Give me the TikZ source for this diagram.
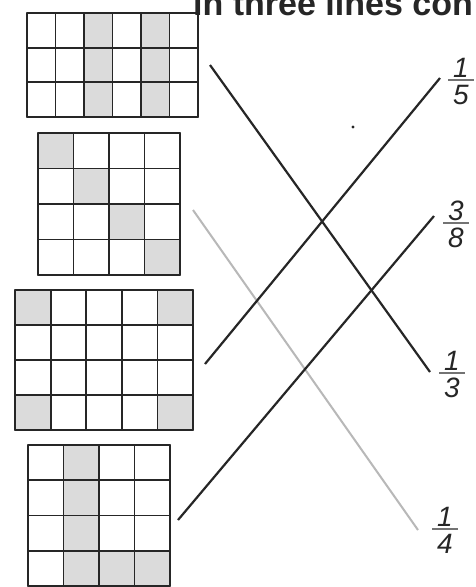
\documentclass[tikz,border=0pt]{standalone}
\usepackage{fontspec}
\setmainfont{Liberation Sans}
\newcommand{\mygrid}[7]{%
  \foreach \i/\j in {#7} \fill[cellshade] ({#1+\i*#3},{#2+\j*#4}) rectangle ++(#3,#4);
  \foreach \k in {0,...,#5} \draw[gridline] ({#1+\k*#3},#2) -- ++(0,{#6*#4});
  \foreach \k in {0,...,#6} \draw[gridline] (#1,{#2+\k*#4}) -- ++({#5*#3},0);
}
\newcommand{\myfrac}[5]{%
  \node[fracdigit,anchor=south] (#1n) at (#2,#3-2.5) {#4};
  \draw[fracbar] (#2-13,#3) -- (#2+13,#3);
  \node[fracdigit,anchor=north] (#1d) at (#2,#3+5) {#5};
}
\begin{document}
\begin{tikzpicture}[x=1pt,y=-1pt,
  gridline/.style={line width=1.8pt, black!85, line cap=round},
  cellshade/.style={fill=black!14},
  matchline/.style={line width=2.2pt, black!85},
  faintline/.style={line width=2pt, black!28},
  fracdigit/.style={inner sep=0pt, font=\fontsize{28}{30}\selectfont\itshape, text=black!85},
  fracbar/.style={line width=1.2pt, black!55},
  ]
\useasboundingbox (0,0) rectangle (476,587);
\fill[white] (0,0) rectangle (476,587);
\clip (0,0) rectangle (476,587);

\node[anchor=base west, inner sep=0pt, font=\fontsize{34}{34}\selectfont\bfseries, text=black!85] (title) at (193,15) {in three lines con};

\mygrid{27}{13}{28.5}{34.67}{6}{3}{2/0,2/1,2/2,4/0,4/1,4/2}
\mygrid{38}{133}{35.5}{35.5}{4}{4}{0/0,1/1,2/2,3/3}
\mygrid{15}{290}{35.6}{35}{5}{4}{0/0,4/0,0/3,4/3}
\mygrid{28}{445}{35.5}{35.25}{4}{4}{1/0,1/1,1/2,1/3,2/3,3/3}

\coordinate (a1) at (210,65);  \coordinate (a2) at (430,372);
\coordinate (b1) at (205,364); \coordinate (b2) at (440,78);
\coordinate (c1) at (178,520); \coordinate (c2) at (434,216);
\coordinate (d1) at (193,210); \coordinate (d2) at (418,530);

\draw[faintline] (d1) -- (d2);
\draw[matchline] (a1) -- (a2);
\draw[matchline] (b1) -- (b2);
\draw[matchline] (c1) -- (c2);

\myfrac{f15}{461}{80}{1}{5}
\myfrac{f38}{456}{223}{3}{8}
\myfrac{f13}{452}{373}{1}{3}
\myfrac{f14}{445}{529}{1}{4}

\fill[black!85] (353,127) circle (1.6);
\end{tikzpicture}
\end{document}
